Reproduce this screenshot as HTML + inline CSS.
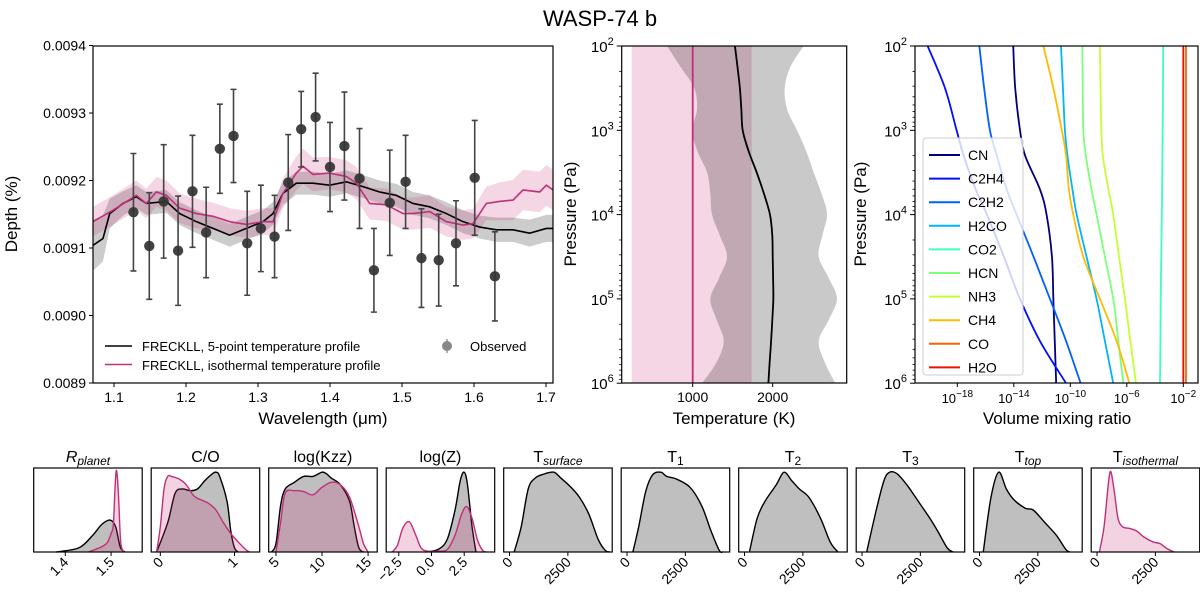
<!DOCTYPE html>
<html><head><meta charset="utf-8">
<style>
html,body{margin:0;padding:0;background:#fff;}
svg{display:block;font-family:"Liberation Sans","DejaVu Sans",sans-serif;}
</style></head>
<body>
<svg id="fig" width="1200" height="595" viewBox="0 0 1200 595" xmlns="http://www.w3.org/2000/svg">
<text x="600" y="26" text-anchor="middle" font-size="22">WASP-74 b</text>
</svg>
<script>
// ---------- spectrum data (depth in units of 1e-4 %) ----------
const obsWl=[1.127,1.149,1.169,1.189,1.209,1.228,1.247,1.266,1.285,1.304,1.323,1.342,1.360,1.380,1.400,1.420,1.441,1.461,1.483,1.505,1.527,1.551,1.575,1.601,1.629];
const obsDepth=[91.53,91.03,91.69,90.96,91.84,91.23,92.47,92.66,91.07,91.29,91.17,91.97,92.76,92.94,92.20,92.51,92.03,90.67,91.67,91.98,90.85,90.82,91.07,92.04,90.58];
const obsErr=[0.87,0.79,0.84,0.81,0.83,0.67,0.66,0.69,0.77,0.64,0.61,0.71,0.56,0.65,0.66,0.80,0.74,0.62,0.78,0.69,0.73,0.68,0.63,0.85,0.66];
const blackWl=[1.0708,1.0847,1.0940,1.1125,1.1310,1.1449,1.1727,1.1912,1.2144,1.2375,1.2606,1.2838,1.3069,1.3208,1.3347,1.3532,1.3764,1.3995,1.4227,1.4458,1.4690,1.4921,1.5153,1.5384,1.5616,1.5847,1.6079,1.6310,1.6542,1.6773,1.7005,1.7097];
const blackDepth=[91.04,91.14,91.51,91.66,91.76,91.66,91.69,91.51,91.39,91.29,91.19,91.29,91.39,91.51,91.81,91.96,91.96,91.93,91.98,91.91,91.83,91.78,91.66,91.61,91.51,91.39,91.31,91.27,91.27,91.22,91.29,91.29];
const blackSpread=[0.38,0.34,0.22,0.18,0.17,0.17,0.17,0.17,0.17,0.17,0.17,0.17,0.17,0.17,0.17,0.17,0.17,0.17,0.17,0.17,0.17,0.17,0.17,0.17,0.17,0.17,0.17,0.18,0.18,0.2,0.2,0.2];
const pinkWl=[1.0708,1.0986,1.1310,1.1449,1.1588,1.1727,1.1912,1.2144,1.2375,1.2606,1.2838,1.3069,1.3208,1.3347,1.3532,1.3625,1.3764,1.3995,1.4227,1.4366,1.4458,1.4551,1.4782,1.5014,1.5153,1.5384,1.5616,1.5847,1.5986,1.6171,1.6356,1.6542,1.6681,1.6912,1.7005,1.7097];
const pinkDepth=[91.39,91.56,91.78,91.66,91.83,91.78,91.59,91.51,91.47,91.39,91.35,91.39,91.39,91.81,92.11,92.21,92.09,92.11,92.06,91.96,91.81,91.66,91.64,91.51,91.51,91.54,91.39,91.34,91.36,91.66,91.69,91.71,91.86,91.83,91.93,91.86];
const pinkSpread=[0.22,0.22,0.22,0.22,0.22,0.22,0.22,0.22,0.2,0.2,0.2,0.2,0.2,0.22,0.25,0.26,0.25,0.24,0.24,0.24,0.24,0.24,0.24,0.24,0.24,0.24,0.22,0.22,0.22,0.25,0.28,0.3,0.3,0.3,0.3,0.3];
const depthTicks=[89,90,91,92,93,94];
const depthTickLabels=["0.0089","0.0090","0.0091","0.0092","0.0093","0.0094"];
const wlTicks=[1.1,1.2,1.3,1.4,1.5,1.6,1.7];
// ---------- temperature profile data (log10 P) ----------
const tpLogP=[2,2.25,2.5,2.75,3,3.25,3.5,3.75,4,4.25,4.5,4.75,5,5.25,5.5,5.75,6];
const tpMedian=[1528,1560,1590,1608,1625,1700,1800,1890,1966,1995,2000,2005,2008,1995,1980,1962,1946];
const tpLow=[679,850,1020,1054,992,1060,1180,1220,1242,1340,1429,1330,1221,1300,1388,1300,1117];
const tpHigh=[2387,2220,2150,2180,2304,2420,2512,2610,2679,2620,2575,2700,2804,2700,2575,2650,2783];
const isoLow=237, isoHigh=1737, isoMedian=1000;
const tempTicks=[1000,2000];
const pressTicks=[2,3,4,5,6];
// ---------- abundances (log10 VMR at log10 P) ----------
const speciesNames=["CN","C2H4","C2H2","H2CO","CO2","HCN","NH3","CH4","CO","H2O"];
const speciesColors=["#00007f","#0010ff","#0060ff","#00b4ff","#3dffc0","#7dff7a","#c4ff34","#ffbc00","#ff6000","#f01000"];
const chemLogP=[2,2.5,3,3.3,3.7,4,4.5,5,5.5,6];
const abCN=[-14.04,-13.9,-13.56,-13.2,-12.15,-11.68,-11.3,-11.2,-11.1,-11.0];
const abC2H4=[-20.1,-18.87,-18.05,-17.55,-16.7,-15.9,-14.7,-13.56,-12.15,-10.3];
const abC2H2=[-16.44,-16.1,-15.69,-15.2,-14.5,-13.8,-12.6,-11.44,-10.3,-9.27];
const abH2CO=[-10.66,-10.52,-10.38,-10.2,-9.85,-9.55,-8.85,-8.14,-7.55,-6.96];
const abCO2=[-3.42,-3.44,-3.46,-3.48,-3.5,-3.52,-3.56,-3.6,-3.62,-3.65];
const abHCN=[-9.15,-9.12,-9.08,-8.9,-8.5,-8.14,-7.55,-6.96,-6.6,-6.25];
const abNH3=[-7.9,-7.86,-7.8,-7.7,-7.3,-6.96,-6.55,-6.13,-5.75,-5.35];
const abCH4=[-11.91,-11.2,-10.6,-10.3,-10.1,-9.79,-9.08,-7.9,-6.72,-5.82];
const abCO=[-1.81,-1.81,-1.81,-1.81,-1.81,-1.81,-1.81,-1.81,-1.81,-1.81];
const abH2O=[-2.0,-2.0,-2.0,-2.0,-2.0,-2.0,-2.0,-2.0,-2.0,-2.0];
const vmrTicks=[-18,-14,-10,-6,-2];
// ---------- posterior KDEs (height fraction of box) ----------
const rpX=[1.38,1.43,1.46,1.48,1.498,1.51,1.52,1.53];
const rpGrey=[0,0.05,0.2,0.33,0.38,0.3,0.06,0];
const rpPinkX=[1.45,1.47,1.49,1.5,1.505,1.509,1.512,1.516,1.521,1.528];
const rpPink=[0,0.04,0.1,0.22,0.33,0.8,0.97,0.7,0.12,0];
const coX=[-0.05,0.1,0.2,0.3,0.4,0.5,0.6,0.7,0.75,0.8,0.9,0.95,1.0,1.05];
const coGrey=[0,0.35,0.7,0.75,0.73,0.75,0.85,0.93,0.95,0.9,0.6,0.25,0.05,0];
const coPinkX=[-0.05,0.0,0.05,0.1,0.15,0.25,0.35,0.45,0.55,0.65,0.75,0.85,0.95,1.05,1.15,1.2];
const coPink=[0,0.3,0.75,0.9,0.9,0.87,0.8,0.67,0.62,0.58,0.5,0.35,0.22,0.12,0.03,0];
const kzzX=[4.5,5,5.5,6,7,8,9,10,10.5,11,12,13,13.5,14,14.5];
const kzzGrey=[0,0.1,0.55,0.75,0.83,0.9,0.9,0.95,0.93,0.88,0.8,0.6,0.3,0.05,0];
const kzzPinkX=[5,5.5,6,7,8,9,10,11,12,13,14,14.5,15];
const kzzPink=[0,0.35,0.7,0.73,0.72,0.68,0.77,0.83,0.8,0.65,0.3,0.1,0];
const zX=[-0.5,0.5,1.2,1.8,2.2,2.5,2.75,3.1,3.4];
const zGrey=[0,0.03,0.15,0.5,0.85,0.95,0.8,0.3,0];
const zPinkX=[-3.0,-2.6,-2.2,-1.7,-1.2,-0.8,-0.3,0.5,1.2,1.8,2.3,2.7,3.1,3.5,3.9,4.2];
const zPink=[0,0.08,0.28,0.36,0.2,0.05,0.01,0.01,0.03,0.2,0.45,0.54,0.4,0.15,0.02,0];
const tsX=[200,500,800,1100,1500,1900,2200,2600,3000,3400,3800,4100,4300];
const tsGrey=[0,0.3,0.75,0.88,0.93,0.95,0.88,0.78,0.65,0.45,0.15,0.02,0];
const t1X=[250,500,800,1100,1450,1700,2100,2700,3200,3600,3950,4100];
const t1Grey=[0,0.3,0.72,0.92,0.95,0.9,0.87,0.77,0.55,0.25,0.02,0];
const t2X=[210,540,870,1360,1690,2020,2350,2760,3260,3670,4000];
const t2Grey=[0,0.4,0.6,0.8,0.95,0.85,0.75,0.65,0.4,0.12,0];
const t3X=[200,610,940,1180,1510,1920,2420,2910,3240,3650,3900];
const t3Grey=[0,0.5,0.85,0.95,0.93,0.8,0.6,0.4,0.25,0.05,0];
const ttX=[160,490,820,1150,1480,1970,2300,2800,3290,3700,3870];
const ttGrey=[0,0.65,0.95,0.75,0.62,0.52,0.5,0.35,0.2,0.03,0];
const tiX=[100,300,500,600,750,900,1100,1400,1700,2000,2400,2700,3000,3300];
const tiPink=[0,0.3,0.85,0.95,0.7,0.4,0.3,0.28,0.25,0.18,0.12,0.1,0.04,0];

const NS="http://www.w3.org/2000/svg";
const svg=document.getElementById('fig');
function mk(tag,attrs,parent){const e=document.createElementNS(NS,tag);for(const k in attrs)e.setAttribute(k,attrs[k]);(parent||svg).appendChild(e);return e;}
function catmull(pts){if(pts.length<2)return"";let d="M"+pts[0][0].toFixed(2)+","+pts[0][1].toFixed(2);for(let i=0;i<pts.length-1;i++){const p0=pts[i-1]||pts[i],p1=pts[i],p2=pts[i+1],p3=pts[i+2]||p2;const c1x=p1[0]+(p2[0]-p0[0])/6,c1y=p1[1]+(p2[1]-p0[1])/6,c2x=p2[0]-(p3[0]-p1[0])/6,c2y=p2[1]-(p3[1]-p1[1])/6;d+="C"+c1x.toFixed(2)+","+c1y.toFixed(2)+" "+c2x.toFixed(2)+","+c2y.toFixed(2)+" "+p2[0].toFixed(2)+","+p2[1].toFixed(2);}return d;}
function poly(pts){return "M"+pts.map(p=>p[0].toFixed(2)+","+p[1].toFixed(2)).join("L");}

// ================= Spectrum panel =================
const sx=wl=>114+(wl-1.1)*720, sy=d=>248-(d-91)*67.5;
const g1=mk('g',{});


mk('defs',{}).innerHTML='<clipPath id="c1"><rect x="93" y="46" width="460" height="337"/></clipPath>';
const gc=mk('g',{'clip-path':'url(#c1)'},g1);
function band(xs,ys,sp,fill,name){const up=xs.map((x,i)=>[sx(x),sy(ys[i]+sp[i])]);const lo=xs.map((x,i)=>[sx(x),sy(ys[i]-sp[i])]).reverse();const p=mk('path',{d:poly(up)+"L"+poly(lo).slice(1)+"Z",fill:fill},gc);}
band(blackWl,blackDepth,blackSpread,'rgba(0,0,0,0.2)','five-point-model-band');
band(pinkWl,pinkDepth,pinkSpread,'rgba(200,50,120,0.2)','isothermal-model-band');
obsWl.forEach((w,i)=>{const x=sx(w);const y1=sy(obsDepth[i]+obsErr[i]),y2=sy(obsDepth[i]-obsErr[i]);const l=mk('path',{d:`M${x},${y1}V${y2}M${x-3},${y1}H${x+3}M${x-3},${y2}H${x+3}`,fill:'none',stroke:'#444','stroke-width':1.6},g1);});
let bl=mk('path',{d:poly(blackWl.map((w,i)=>[sx(w),sy(blackDepth[i])])),fill:'none',stroke:'#000','stroke-width':1.6},gc);


let pl=mk('path',{d:poly(pinkWl.map((w,i)=>[sx(w),sy(pinkDepth[i])])),fill:'none',stroke:'#c0307a','stroke-width':1.6},gc);


obsWl.forEach((w,i)=>{const c=mk('circle',{cx:sx(w),cy:sy(obsDepth[i]),r:5.2,fill:'#333','fill-opacity':0.92},g1);});
mk('rect',{x:93,y:46,width:460,height:337,fill:'none',stroke:'#000','stroke-width':1.2},g1);
depthTicks.forEach((t,i)=>{const y=sy(t);mk('line',{x1:89,x2:93,y1:y,y2:y,stroke:'#000'},g1);const tx=mk('text',{x:86,y:y+5,'text-anchor':'end','font-size':14},g1);tx.textContent=depthTickLabels[i];});
wlTicks.forEach(t=>{const x=sx(t);mk('line',{x1:x,x2:x,y1:383,y2:387,stroke:'#000'},g1);const tx=mk('text',{x:x,y:402,'text-anchor':'middle','font-size':14},g1);tx.textContent=t.toFixed(1);});
svg.insertAdjacentHTML('beforeend','<text x="323" y="424" text-anchor="middle" font-size="17">Wavelength (μm)</text><text transform="translate(17,214) rotate(-90)" text-anchor="middle" font-size="17">Depth (%)</text>'+
'<g><line x1="105" x2="132" y1="346" y2="346" stroke="#000" stroke-width="1.6"/><text x="142" y="351" font-size="13">FRECKLL, 5-point temperature profile</text><line x1="105" x2="132" y1="364.5" y2="364.5" stroke="#c0307a" stroke-width="1.6"/><text x="142" y="370" font-size="13">FRECKLL, isothermal temperature profile</text><line x1="447" x2="447" y1="339" y2="353" stroke="#999" stroke-width="1.5"/><circle cx="447" cy="346" r="5" fill="#888"/><text x="470" y="351" font-size="13">Observed</text></g>');

// ================= Temperature-pressure panel =================
const tx_=T=>692.7+(T-1000)*0.08, ty=lp=>46+(lp-2)*84.3;
const g2=mk('g',{});


let ib=mk('rect',{x:tx_(isoLow),y:ty(2),width:tx_(isoHigh)-tx_(isoLow),height:ty(6)-ty(2),fill:'rgba(204,51,122,0.2)'},g2);


const hi=tpLogP.map((p,i)=>[tx_(tpHigh[i]),ty(p)]), lo=tpLogP.map((p,i)=>[tx_(tpLow[i]),ty(p)]).reverse();
let gb=mk('path',{d:catmull(hi)+"L"+catmull(lo).slice(1)+"Z",fill:'rgba(0,0,0,0.21)'},g2);


let il=mk('line',{x1:tx_(isoMedian),x2:tx_(isoMedian),y1:ty(2),y2:ty(6),stroke:'#c0307a','stroke-width':1.8},g2);


let ml=mk('path',{d:catmull(tpLogP.map((p,i)=>[tx_(tpMedian[i]),ty(p)])),fill:'none',stroke:'#000','stroke-width':1.8},g2);


mk('rect',{x:621.7,y:46,width:225,height:337,fill:'none',stroke:'#000','stroke-width':1.2},g2);
function logAxisY(x0,g){pressTicks.forEach(p=>{const y=ty(p);mk('line',{x1:x0-5,x2:x0,y1:y,y2:y,stroke:'#000'},g);const t=mk('text',{x:x0-8,y:y+6,'text-anchor':'end','font-size':15},g);t.innerHTML='10<tspan dy="-7" font-size="11">'+p+'</tspan>';if(p<6)for(let m=2;m<10;m++){const yy=ty(p+Math.log10(m));mk('line',{x1:x0-2.5,x2:x0,y1:yy,y2:yy,stroke:'#000','stroke-width':0.8},g);}});}
logAxisY(621.7,g2);
tempTicks.forEach(t=>{const x=tx_(t);mk('line',{x1:x,x2:x,y1:383,y2:387,stroke:'#000'},g2);const e=mk('text',{x:x,y:402,'text-anchor':'middle','font-size':14},g2);e.textContent=t;});
svg.insertAdjacentHTML('beforeend','<text x="734" y="424" text-anchor="middle" font-size="17">Temperature (K)</text><text transform="translate(576,214) rotate(-90)" text-anchor="middle" font-size="17">Pressure (Pa)</text>');

// ================= Abundance panel =================
const ax=v=>957.3+(v+18)*14.125;
const g3=mk('g',{});


mk('defs',{}).innerHTML='<clipPath id="c3"><rect x="915" y="46" width="283" height="337"/></clipPath>';
const g3c=mk('g',{'clip-path':'url(#c3)'},g3);
const allAb=[abCN,abC2H4,abC2H2,abH2CO,abCO2,abHCN,abNH3,abCH4,abCO,abH2O];
allAb.forEach((arr,i)=>{const p=mk('path',{d:catmull(chemLogP.map((lp,j)=>[ax(arr[j]),ty(lp)])),fill:'none',stroke:speciesColors[i],'stroke-width':1.8},g3c);});
mk('rect',{x:915,y:46,width:283,height:337,fill:'none',stroke:'#000','stroke-width':1.2},g3);
logAxisY(915,g3);
vmrTicks.forEach(v=>{const x=ax(v);mk('line',{x1:x,x2:x,y1:383,y2:387,stroke:'#000'},g3);const e=mk('text',{x:x,y:403,'text-anchor':'middle','font-size':13},g3);e.innerHTML='10<tspan dy="-6" font-size="10">−'+Math.abs(v)+'</tspan>';});
const lg=mk('g',{},g3);


mk('rect',{x:923,y:138,width:100,height:237,rx:3,fill:'rgba(255,255,255,0.8)',stroke:'#ccc'},lg);
speciesNames.forEach((n,i)=>{const y=155+i*23.6;mk('line',{x1:929,x2:960,y1:y,y2:y,stroke:speciesColors[i],'stroke-width':2},lg);const t=mk('text',{x:968,y:y+5,'font-size':14},lg);t.textContent=n;});
svg.insertAdjacentHTML('beforeend','<text x="1057" y="424" text-anchor="middle" font-size="17">Volume mixing ratio</text><text transform="translate(866,214) rotate(-90)" text-anchor="middle" font-size="17">Pressure (Pa)</text>');

// ================= Posterior panels =================
const panels=[
 {name:'r-planet',title:'<tspan font-style="italic">R</tspan><tspan font-style="italic" font-size="12" dy="3">planet</tspan>',min:1.331,max:1.568,ticks:[1.4,1.5],labels:["1.4","1.5"],grey:[rpX,rpGrey],pink:[rpPinkX,rpPink]},
 {name:'c-to-o',title:'C/O',min:-0.123,max:1.34,ticks:[0,1],labels:["0","1"],grey:[coX,coGrey],pink:[coPinkX,coPink]},
 {name:'log-kzz',title:'log(Kzz)',min:4.21,max:15.99,ticks:[5,10,15],labels:["5","10","15"],grey:[kzzX,kzzGrey],pink:[kzzPinkX,kzzPink]},
 {name:'log-z',title:'log(Z)',min:-3.46,max:4.83,ticks:[-2.5,0,2.5],labels:["−2.5","0.0","2.5"],grey:[zX,zGrey],pink:[zPinkX,zPink]},
 {name:'t-surface',title:'T<tspan font-style="italic" font-size="12" dy="3">surface</tspan>',min:-250,max:4400,ticks:[0,2500],labels:["0","2500"],grey:[tsX,tsGrey]},
 {name:'t-1',title:'T<tspan font-size="12" dy="3">1</tspan>',min:-250,max:4400,ticks:[0,2500],labels:["0","2500"],grey:[t1X,t1Grey]},
 {name:'t-2',title:'T<tspan font-size="12" dy="3">2</tspan>',min:-250,max:4400,ticks:[0,2500],labels:["0","2500"],grey:[t2X,t2Grey]},
 {name:'t-3',title:'T<tspan font-size="12" dy="3">3</tspan>',min:-250,max:4400,ticks:[0,2500],labels:["0","2500"],grey:[t3X,t3Grey]},
 {name:'t-top',title:'T<tspan font-style="italic" font-size="12" dy="3">top</tspan>',min:-250,max:4400,ticks:[0,2500],labels:["0","2500"],grey:[ttX,ttGrey]},
 {name:'t-isothermal',title:'T<tspan font-style="italic" font-size="12" dy="3">isothermal</tspan>',min:-250,max:4400,ticks:[0,2500],labels:["0","2500"],pink:[tiX,tiPink]}
];
const PY0=468, PH=84, PW=108.5;
panels.forEach((p,k)=>{
 const x0=33.7+k*117.5;
 const g=mk('g',{});
 
 
 const fx=v=>x0+(v-p.min)/(p.max-p.min)*PW, fy=h=>PY0+PH-h*PH;
 function kde(arr,fill,stroke,nm){const pts=arr[0].map((v,i)=>[fx(v),fy(arr[1][i])]);const d=catmull(pts);const a=mk('path',{d:d+"L"+pts[pts.length-1][0]+","+fy(0)+"L"+pts[0][0]+","+fy(0)+"Z",fill:fill},g);const l=mk('path',{d:d,fill:'none',stroke:stroke,'stroke-width':1.4},g);}
 if(p.grey)kde(p.grey,'rgba(0,0,0,0.25)','#000','kde-five-point');
 if(p.pink)kde(p.pink,'rgba(200,50,120,0.22)','#c0307a','kde-isothermal');
 mk('rect',{x:x0,y:PY0,width:PW,height:PH,fill:'none',stroke:'#000','stroke-width':1.2},g);
 const t=mk('text',{x:x0+PW/2,y:462,'text-anchor':'middle','font-size':16},g);
 t.innerHTML=p.title;
 
 
 p.ticks.forEach((v,i)=>{const x=fx(v);mk('line',{x1:x,x2:x,y1:PY0+PH,y2:PY0+PH+4,stroke:'#000'},g);const e=mk('text',{transform:'translate('+(x+4)+','+(PY0+PH+11)+') rotate(-45)','text-anchor':'end','font-size':14},g);e.textContent=p.labels[i];});
});
</script>
</body></html>
